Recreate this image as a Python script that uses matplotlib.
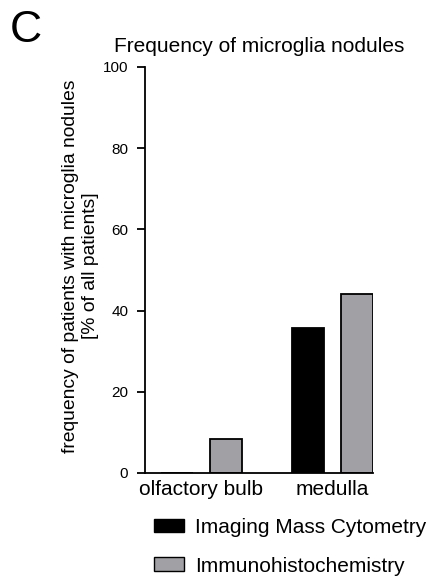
import numpy as np
import matplotlib
matplotlib.use("Agg")
from matplotlib import pyplot as plt
from matplotlib.patches import Patch

plt.rcParams['font.family'] = ['Liberation Sans', 'DejaVu Sans']

regions = ["olfactory bulb", "medulla"]
imc = [0.0, 35.7]    # Imaging Mass Cytometry
ihc = [8.3, 44.0]    # Immunohistochemistry
series_names = ["Imaging Mass Cytometry", "Immunohistochemistry"]
yticks = [0, 20, 40, 60, 80, 100]

black = "#000000"
grey = "#a1a1a5"

fig = plt.figure(figsize=(4.3, 5.76), dpi=100)
ax = fig.add_axes([145/430, 1 - 473/576, 228/430, 406/576])

x = np.arange(len(regions))
w = 0.244
off = 0.187
ax.bar(x - off, imc, w, color=black, edgecolor='k', lw=1.3)
ax.bar(x + off, ihc, w, color=grey, edgecolor='k', lw=1.3)

ax.set_xlim(-0.431, 1.309)
ax.set_ylim(0, 100)
ax.set_yticks(yticks)
ax.set_xticks(x)
ax.set_xticklabels(regions, fontsize=15)
ax.tick_params(axis='x', length=0, pad=5)
ax.tick_params(axis='y', length=6, width=1.3, labelsize=11, pad=6)
for s in ['top', 'right']:
    ax.spines[s].set_visible(False)
for s in ['left', 'bottom']:
    ax.spines[s].set_linewidth(1.3)

ax.set_ylabel("frequency of patients with microglia nodules\n[% of all patients]",
              fontsize=13.9, labelpad=3, linespacing=1.25)
ax.yaxis.set_label_coords(-0.2, 0.51)
ax.set_title("Frequency of microglia nodules", fontsize=15, pad=11)

fig.text(10/430, 1 - 31/576, "C", fontsize=32, va='center', ha='left')

handles = [Patch(facecolor=black, edgecolor='k', lw=1.0),
           Patch(facecolor=grey, edgecolor='k', lw=1.0)]
fig.legend(handles, series_names, loc='upper left',
           bbox_to_anchor=(135/430, 1 - 499/576), frameon=False,
           fontsize=15, handlelength=1.45, handleheight=0.62,
           handletextpad=0.55, labelspacing=0.95)

fig.savefig("out.png", dpi=100)
